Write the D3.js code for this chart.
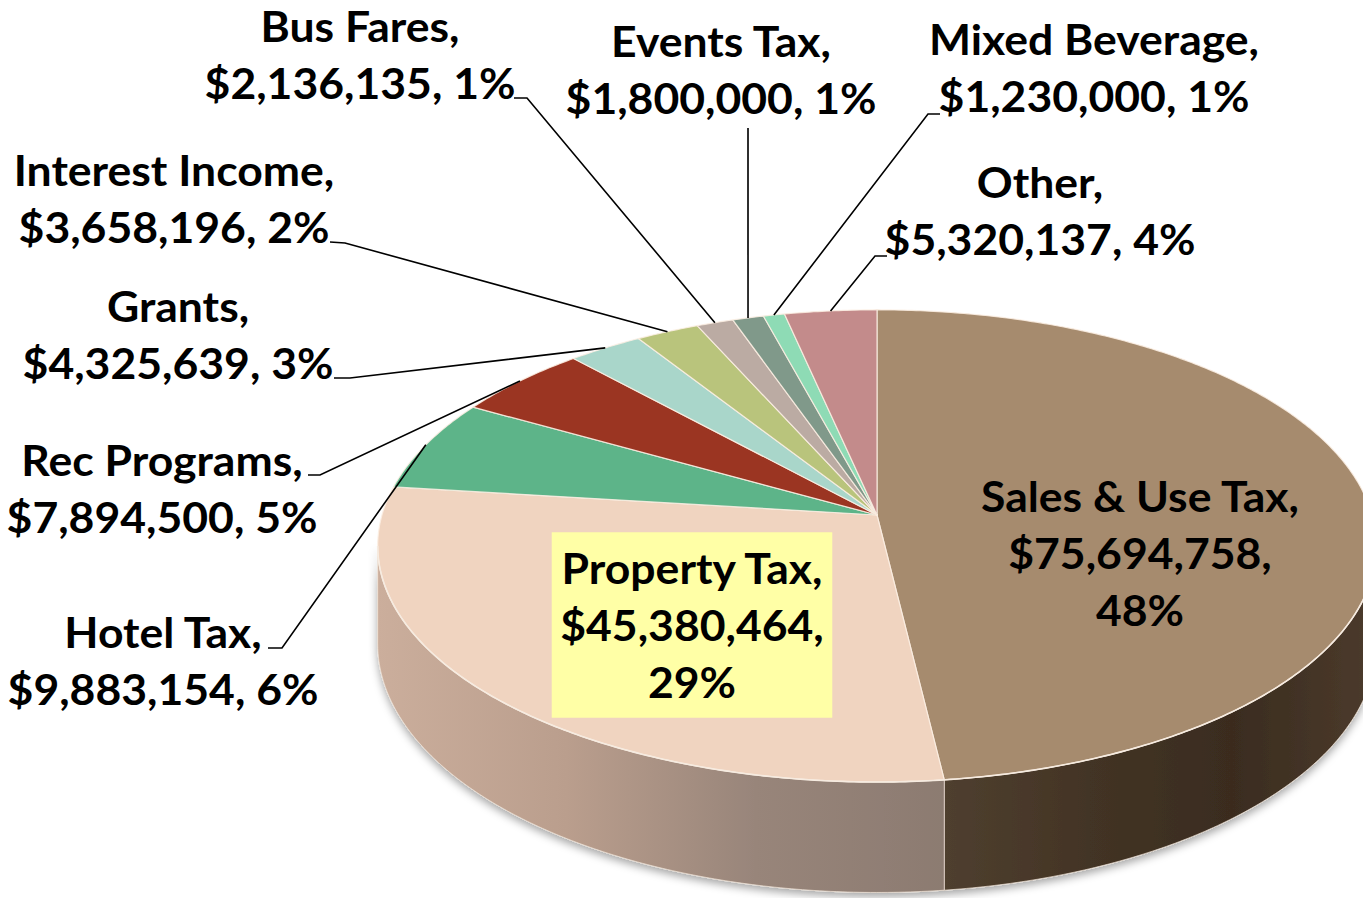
<!DOCTYPE html>
<html lang="en">
<head>
    <meta charset="utf-8">
    <title>Revenue Sources</title>
    <style type="text/css">
        body { margin: 0; background: #fff; }
        svg { display: block; }
        .lbl { font-family: Lato, "Open Sans", sans-serif; font-weight: 700; font-size: 42px; fill: #000; }
        .leader { fill: none; stroke: #000; stroke-width: 1.6; }
    </style>
</head>
<body>
<svg id="chart" width="1363" height="898"></svg>

<script src="https://cdn.jsdelivr.net/npm/d3@7"></script>
<script>
    // data, clockwise from 12 o'clock
    var sources = ['Sales & Use Tax', 'Property Tax', 'Hotel Tax', 'Rec Programs', 'Grants',
                   'Interest Income', 'Bus Fares', 'Events Tax', 'Mixed Beverage', 'Other'];
    var amounts = [75694758, 45380464, 9883154, 7894500, 4325639, 3658196, 2136135, 1800000, 1230000, 5320137];
    var percents = ['48%', '29%', '6%', '5%', '3%', '2%', '1%', '1%', '1%', '4%'];

    var topColors = ['#a68b6e', '#f0d4c0', '#5db489', '#9b3522', '#a9d6ca',
                     '#b9c47c', '#bbaba3', '#80998a', '#8edbb5', '#c38b8b'];
    // gradient stops for the visible outer wall (only the first two show)
    var sideColors = [['#4f3f2f', '#433425', '#3a2c1f', '#4c3b2c'],
                      ['#cbae9c', '#ba9e8d', '#98857a', '#8c7b71']];

    // label layout: centre x, first baseline, leader tick
    var labelPos = [
        {x: 1140, y: 512, inside: true},
        {x: 692,  y: 584, inside: true, box: true},
        {x: 163,  y: 648, tick: [268, 648, 282, 648]},
        {x: 162,  y: 476, tick: [308, 475, 320, 475]},
        {x: 178,  y: 322, tick: [334, 378, 350, 378]},
        {x: 174,  y: 186, tick: [330, 242, 345, 243]},
        {x: 360,  y: 42,  tick: [514, 98, 527, 98]},
        {x: 721,  y: 57,  tick: [748, 128, 748, 128]},
        {x: 1094, y: 55,  tick: [940, 114, 928, 114]},
        {x: 1040, y: 198, tick: [887, 256, 875, 256]}
    ];

    var svg = d3.select('#chart');

    // perspective disc: angle a clockwise from top, h = drop below the top face
    var cx = 877, cy = 515, rx = 495, ry = 232, tilt = 0.131, depth = 96;
    function project(a, h) {
        var X = Math.sin(a), Z = -Math.cos(a), s = 1 / (1 - tilt * Z);
        return [cx + rx * X * s, cy + ry * Z * s + h * s];
    }
    function rim(a0, a1, h) {
        var n = Math.max(2, Math.ceil((a1 - a0) / 0.01));
        return d3.range(n + 1).map(function(i) { return project(a0 + (a1 - a0) * i / n, h); });
    }

    var data = sources.map(function(s, i) {
        return {name: s, value: amounts[i], pct: percents[i], color: topColors[i], side: sideColors[i], pos: labelPos[i]};
    });
    var arcs = d3.pie().sort(null).value(function(d) { return d.value; })(data);
    var line = d3.line();
    var money = d3.format('$,');

    var defs = svg.append('defs');
    defs.append('filter').attr('id', 'shadow')
        .attr('x', '-10%').attr('y', '-20%').attr('width', '120%').attr('height', '150%')
        .append('feDropShadow')
        .attr('dx', 0).attr('dy', 4).attr('stdDeviation', 4)
        .attr('flood-color', '#000').attr('flood-opacity', 0.35);

    // outer wall, visible between the two silhouette angles
    var aR = Math.acos(-tilt), aL = 2 * Math.PI - aR;
    var sideG = svg.append('g').attr('filter', 'url(#shadow)');
    arcs.forEach(function(d, i) {
        var a0 = Math.max(d.startAngle, aR), a1 = Math.min(d.endAngle, aL);
        if (a1 <= a0) return;
        var top = rim(a0, a1, 0), bot = rim(a0, a1, depth).reverse();
        var xs = top.map(function(p) { return p[0]; });
        var stops = d.data.side || [d3.color(d.data.color).darker(1), d3.color(d.data.color).darker(1.5)];
        var grad = defs.append('linearGradient').attr('id', 'side' + i)
            .attr('gradientUnits', 'userSpaceOnUse')
            .attr('x1', d3.min(xs)).attr('x2', d3.max(xs)).attr('y1', 0).attr('y2', 0);
        stops.forEach(function(c, j) {
            grad.append('stop').attr('offset', j / (stops.length - 1)).attr('stop-color', c);
        });
        sideG.append('path')
            .attr('d', line(top.concat(bot)) + 'Z')
            .attr('fill', 'url(#side' + i + ')')
            .attr('stroke', '#efe2d6').attr('stroke-width', 1).attr('stroke-opacity', 0.7);
    });

    // top face
    svg.append('g').selectAll('path')
        .data(arcs)
        .enter()
        .append('path')
        .attr('d', function(d) { return line([[cx, cy]].concat(rim(d.startAngle, d.endAngle, 0))) + 'Z'; })
        .attr('fill', function(d) { return d.data.color; })
        .attr('stroke', '#fbeee3').attr('stroke-width', 1.2).attr('stroke-opacity', 0.85)
        .attr('stroke-linejoin', 'round');

    // light bevel along the front rim
    svg.append('path')
        .attr('d', line(rim(aR, aL, 0)))
        .attr('fill', 'none').attr('stroke', '#f6ebe0').attr('stroke-width', 1.6);

    // leader lines
    arcs.forEach(function(d) {
        var t = d.data.pos.tick;
        if (!t) return;
        var end = project((d.startAngle + d.endAngle) / 2, 0);
        svg.append('path').attr('class', 'leader')
            .attr('d', line([[t[0], t[1]], [t[2], t[3]], end]));
    });

    // labels
    arcs.forEach(function(d) {
        var p = d.data.pos;
        var lines = p.inside
            ? [d.data.name + ',', money(d.data.value) + ',', d.data.pct]
            : [d.data.name + ',', money(d.data.value) + ', ' + d.data.pct];
        var g = svg.append('g').attr('transform', 'translate(' + p.x + ',' + p.y + ') scale(1.06,1)');
        var txt = g.append('text').attr('class', 'lbl').attr('text-anchor', 'middle');
        txt.selectAll('tspan').data(lines).enter().append('tspan')
            .attr('x', 0).attr('y', function(s, j) { return j * 57; })
            .text(function(s) { return s; });
        if (p.box) {
            var bb = txt.node().getBBox();
            g.insert('rect', 'text')
                .attr('x', bb.x - 8).attr('y', bb.y - 10)
                .attr('width', bb.width + 16).attr('height', bb.height + 21)
                .attr('fill', '#ffffa6');
        }
    });
</script>
</body>
</html>
